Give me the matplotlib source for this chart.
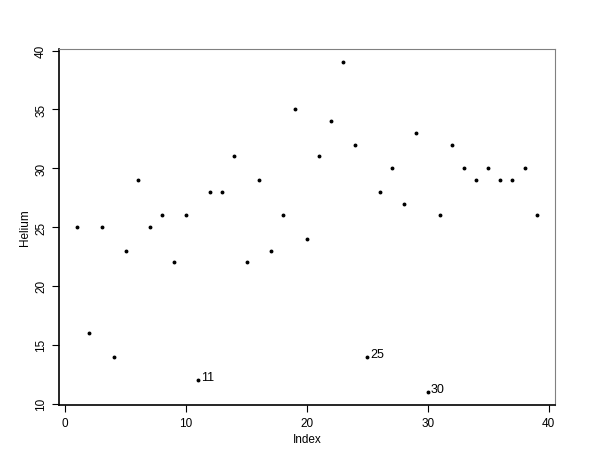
import numpy as np
import matplotlib
matplotlib.use("Agg")
import matplotlib.pyplot as plt

# Helium readings by index
index = list(range(1, 40))
helium = [25, 16, 25, 14, 23, 29, 25, 26, 22, 26,
          12, 28, 28, 31, 22, 29, 23, 26, 35, 24,
          31, 34, 39, 32, 14, 28, 30, 27, 33, 11,
          26, 32, 30, 29, 30, 29, 29, 30, 26]
flagged = [11, 25, 30]

xticks = [0, 10, 20, 30, 40]
yticks = [10, 15, 20, 25, 30, 35, 40]

plt.rcParams['font.family'] = ['Liberation Sans', 'DejaVu Sans']

fig = plt.figure(figsize=(6, 4.64), dpi=100)
ax = fig.add_axes([0.0983, 0.125, 0.8267, 0.767])

ax.plot(index, helium, linestyle="none", marker="o", markersize=1.8,
        color="black")

for i in flagged:
    ax.text(i + 0.2, helium[i - 1] + 0.25, str(i), fontsize=9,
            ha="left", va="center")

ax.set_xlim(-0.52, 40.52)
ax.set_ylim(9.88, 40.12)
ax.set_xticks(xticks)
ax.set_yticks(yticks)
ax.set_xticklabels([str(t) for t in xticks], fontsize=8.5)
ax.set_yticklabels([str(t) for t in yticks], fontsize=8.5, rotation=90,
                   va="center")
ax.tick_params(direction="out", length=5, width=0.8)

ax.spines["top"].set_color("#808080")
ax.spines["right"].set_color("#808080")
ax.spines["left"].set_linewidth(1.2)
ax.spines["bottom"].set_linewidth(1.2)

ax.set_xlabel("Index", fontsize=8.5, labelpad=3)
ax.set_ylabel("Helium", fontsize=8.5, labelpad=3)

fig.savefig("out.png", dpi=100)
